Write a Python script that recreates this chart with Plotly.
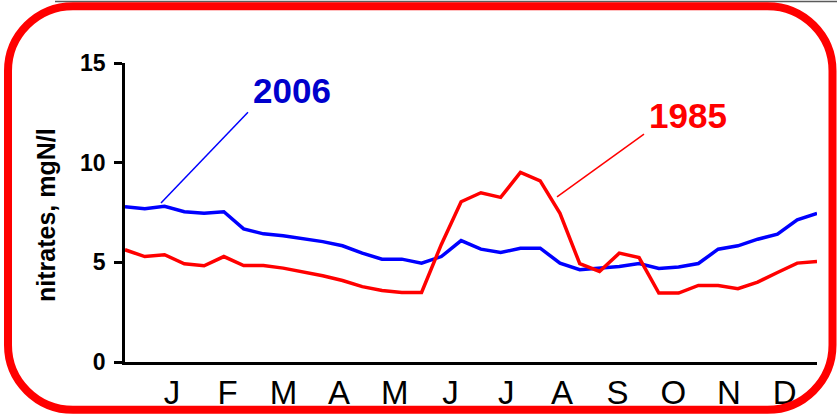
import plotly.graph_objects as go

# ---- data (10-day periods, 3 per month) ----
months = ["J", "F", "M", "A", "M", "J", "J", "A", "S", "O", "N", "D"]
nitrate_2006 = [7.79, 7.69, 7.81, 7.54, 7.46, 7.54, 6.68, 6.43, 6.33, 6.20,
                6.04, 5.83, 5.46, 5.16, 5.16, 4.96, 5.29, 6.09, 5.66, 5.49,
                5.71, 5.71, 4.96, 4.63, 4.69, 4.79, 4.94, 4.69, 4.77, 4.94,
                5.66, 5.83, 6.16, 6.41, 7.13, 7.46]
nitrate_1985 = [5.63, 5.29, 5.38, 4.93, 4.83, 5.29, 4.84, 4.84, 4.71, 4.54,
                4.33, 4.09, 3.78, 3.59, 3.49, 3.49, 5.90, 8.04, 8.49, 8.26,
                9.51, 9.09, 7.46, 4.93, 4.54, 5.46, 5.24, 3.46, 3.46, 3.84,
                3.84, 3.68, 4.01, 4.49, 4.96, 5.04]
y_ticks = [0, 5, 10, 15]

W, H = 837, 418
ML, MR, MT, MB = 125, 20, 62.5, 55.5
PW, PH = W - ML - MR, H - MT - MB

def px(x):
    return (x - ML) / PW

def py(y):
    return (H - MB - y) / PH

n = len(nitrate_2006)
xs = list(range(n))
step = (n - 1) / (PW) * 55.7  # month label spacing in index units
first = (172 - ML) / PW * (n - 1)
tickvals = [first + k * step for k in range(len(months))]

fig = go.Figure()
fig.add_trace(go.Scatter(x=xs, y=nitrate_2006, mode="lines",
                         line=dict(color="#0000FF", width=3.5), name="2006"))
fig.add_trace(go.Scatter(x=xs, y=nitrate_1985, mode="lines",
                         line=dict(color="#FF0000", width=3.5), name="1985"))

# thin grey strip at the very top (slide edge)
fig.add_shape(type="rect", xref="paper", yref="paper",
              x0=px(55), x1=px(837), y0=py(1.5), y1=py(0),
              line=dict(width=0), fillcolor="#5a5a5a", layer="below")

# rounded red frame (pixel -> paper)
L, R, T, B, r = 8, 832.5, 5.5, 410.5, 65
k = 0.5523 * r
def P(x, y):
    return f"{px(x):.5f},{py(y):.5f}"
path = (f"M {P(L + r, T)} L {P(R - r, T)} "
        f"C {P(R - r + k, T)} {P(R, T + r - k)} {P(R, T + r)} "
        f"L {P(R, B - r)} "
        f"C {P(R, B - r + k)} {P(R - r + k, B)} {P(R - r, B)} "
        f"L {P(L + r, B)} "
        f"C {P(L + r - k, B)} {P(L, B - r + k)} {P(L, B - r)} "
        f"L {P(L, T + r)} "
        f"C {P(L, T + r - k)} {P(L + r - k, T)} {P(L + r, T)} Z")
fig.add_shape(type="path", path=path, xref="paper", yref="paper",
              line=dict(color="#FF0000", width=8), layer="above")

# leader lines
fig.add_shape(type="line", xref="x", yref="y", x0=1.82, y0=7.98, x1=6.22, y1=12.53,
              line=dict(color="#0000FF", width=1.5))
fig.add_shape(type="line", xref="x", yref="y", x0=21.85, y0=8.28, x1=26.25, y1=11.43,
              line=dict(color="#FF0000", width=1.5))

fig.add_annotation(x=8.45, y=13.63, xref="x", yref="y", text="<b>2006</b>",
                   xanchor="center", yanchor="middle",
                   showarrow=False, font=dict(size=35, color="#0000CC",
                                              family="Liberation Sans, Arial"))
fig.add_annotation(x=28.48, y=12.38, xref="x", yref="y", text="<b>1985</b>",
                   xanchor="center", yanchor="middle",
                   showarrow=False, font=dict(size=35, color="#FF0000",
                                              family="Liberation Sans, Arial"))
fig.add_annotation(x=px(46), y=py(215), xref="paper", yref="paper",
                   xanchor="center", yanchor="middle",
                   text="<b>nitrates, mgN/l</b>", textangle=-90, showarrow=False,
                   font=dict(size=25, color="#000000", family="Liberation Sans, Arial"))

fig.update_layout(
    width=W, height=H,
    margin=dict(l=ML, r=MR, t=MT, b=MB, autoexpand=False),
    paper_bgcolor="white", plot_bgcolor="white",
    showlegend=False,
    font=dict(family="Liberation Sans, Arial", color="black"),
    xaxis=dict(range=[0, n - 1], showgrid=False, zeroline=False, automargin=False,
               showline=True, linecolor="black", linewidth=2.5,
               tickmode="array", tickvals=tickvals, ticktext=months,
               ticks="", tickfont=dict(size=33, color="black")),
    yaxis=dict(range=[0, 15], showgrid=False, zeroline=False, automargin=False,
               showline=True, linecolor="black", linewidth=2.5,
               tickmode="array", tickvals=y_ticks,
               ticks="outside", ticklen=8, tickwidth=2.5, tickcolor="black",
               ticklabelstandoff=4,
               tickfont=dict(size=23, color="black", weight="bold",
                             family="Liberation Sans, Arial")),
)

fig.write_html("out.html", config={"displayModeBar": False},
               post_script="document.documentElement.style.overflow='hidden';"
                           "document.body.style.margin='0';document.body.style.overflow='hidden';")
